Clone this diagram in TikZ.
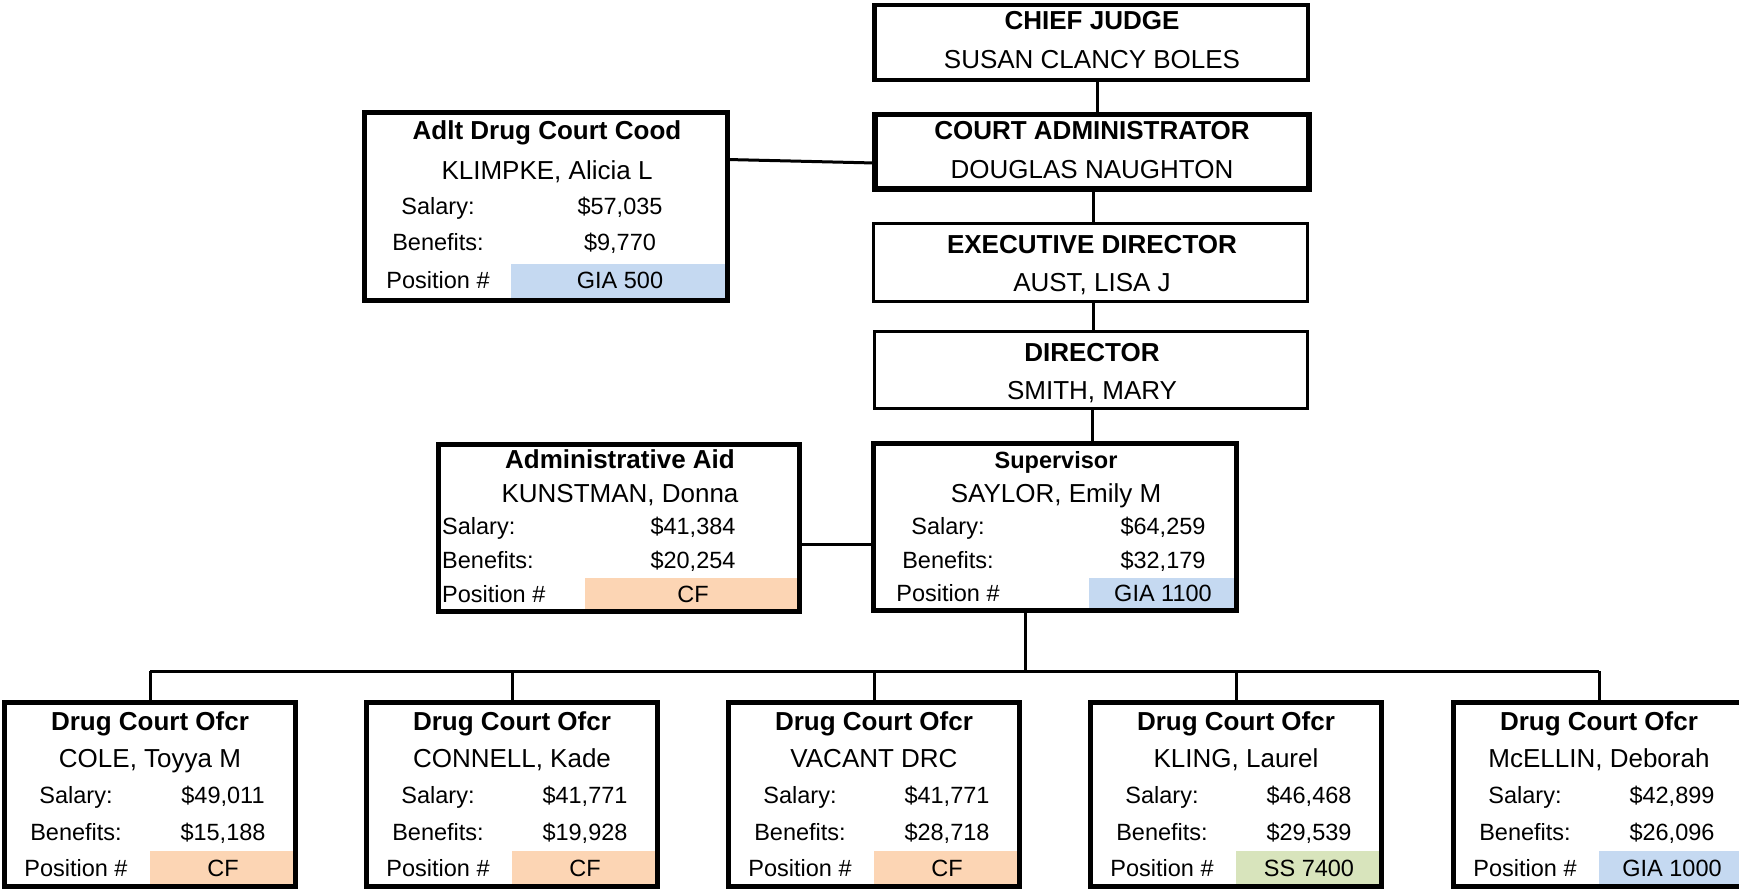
\documentclass[tikz,border=0pt]{standalone}
\usepackage{fontspec}
\setmainfont{Liberation Sans}
\definecolor{peach}{RGB}{252,213,180}
\definecolor{lblue}{RGB}{197,217,241}
\definecolor{lgreen}{RGB}{216,228,188}
\begin{document}
\begin{tikzpicture}[x=1pt,y=-1pt,
  box/.style={draw=black,line width=5pt,inner sep=0pt,outer sep=0pt,rectangle},
  thinbox/.style={box,line width=3pt},
  ttl/.style={anchor=base,inner sep=0pt,font=\fontsize{26}{28}\selectfont\bfseries},
  ttls/.style={anchor=base,inner sep=0pt,font=\fontsize{23.5}{26}\selectfont\bfseries},
  nm/.style={anchor=base,inner sep=0pt,font=\fontsize{26}{28}\selectfont},
  lbl/.style={anchor=base,inner sep=0pt,font=\fontsize{23.5}{26}\selectfont},
  lbll/.style={lbl,anchor=base west},
  conn/.style={line width=3pt},
]
\fill[white] (0,0) rectangle (1739,891);
\useasboundingbox (0,0) rectangle (1739,891);

% ---- top chain ----
\node[box,line width=4.5pt,minimum width=433.5pt,minimum height=74.5pt] (chief) at (1091,42.5) {};
\node[ttl] (chiefT) at (1092,30) {CHIEF JUDGE};
\node[nm] (chiefN) at (1092,68) {SUSAN CLANCY BOLES};

\node[box,line width=5.5pt,minimum width=434pt,minimum height=74.5pt] (ca) at (1091.75,151.5) {};
\node[ttl] (caT) at (1092,139) {COURT ADMINISTRATOR};
\node[nm] (caN) at (1092,178) {DOUGLAS NAUGHTON};

\node[thinbox,minimum width=434pt,minimum height=78pt] (exec) at (1090.5,262.5) {};
\node[ttl] (execT) at (1092,253) {EXECUTIVE DIRECTOR};
\node[nm] (execN) at (1092,291) {AUST, LISA J};

\node[thinbox,minimum width=433pt,minimum height=77pt] (dir) at (1091,370) {};
\node[ttl] (dirT) at (1092,361) {DIRECTOR};
\node[nm] (dirN) at (1092,399) {SMITH, MARY};

% ---- Adlt Drug Court Cood ----
\fill[lblue] (511,264) rectangle (727.5,300.5);
\node[box,minimum width=363pt,minimum height=188pt] (adlt) at (546,206.5) {};
\node[ttl] (adltT) at (547,139) {Adlt Drug Court Cood};
\node[nm] (adltN) at (547,179) {KLIMPKE, Alicia L};
\node[lbl] (adltS) at (438,214) {Salary:};
\node[lbl] (adltSv) at (620,214) {\$57,035};
\node[lbl] (adltB) at (438,250) {Benefits:};
\node[lbl] (adltBv) at (620,250) {\$9,770};
\node[lbl] (adltP) at (438,288) {Position \#};
\node[lbl] (adltPv) at (620,288) {GIA 500};

% ---- Administrative Aid ----
\fill[peach] (585,578) rectangle (799.5,611.5);
\node[box,minimum width=361pt,minimum height=167pt] (aid) at (619,528) {};
\node[ttl] (aidT) at (620,468) {Administrative Aid};
\node[nm] (aidN) at (620,502) {KUNSTMAN, Donna};
\node[lbll] (aidS) at (442,534) {Salary:};
\node[lbl] (aidSv) at (693,534) {\$41,384};
\node[lbll] (aidB) at (442,568) {Benefits:};
\node[lbl] (aidBv) at (693,568) {\$20,254};
\node[lbll] (aidP) at (442,602) {Position \#};
\node[lbl] (aidPv) at (693,602) {CF};

% ---- Supervisor ----
\fill[lblue] (1089,578) rectangle (1236.5,610.5);
\node[box,minimum width=363pt,minimum height=167pt] (sup) at (1055,527) {};
\node[ttls] (supT) at (1056,468) {Supervisor};
\node[nm] (supN) at (1056,502) {SAYLOR, Emily M};
\node[lbl] (supS) at (948,534) {Salary:};
\node[lbl] (supSv) at (1163,534) {\$64,259};
\node[lbl] (supB) at (948,568) {Benefits:};
\node[lbl] (supBv) at (1163,568) {\$32,179};
\node[lbl] (supP) at (948,601) {Position \#};
\node[lbl] (supPv) at (1163,601) {GIA 1100};

% ---- bottom row ----
\foreach \i/\cx/\nm/\sal/\ben/\pos/\col in {
  1/150/{COLE, Toyya M}/{\$49,011}/{\$15,188}/{CF}/peach,
  2/512/{CONNELL, Kade}/{\$41,771}/{\$19,928}/{CF}/peach,
  3/874/{VACANT DRC}/{\$41,771}/{\$28,718}/{CF}/peach,
  4/1236/{KLING, Laurel}/{\$46,468}/{\$29,539}/{SS 7400}/lgreen,
  5/1599/{McELLIN, Deborah}/{\$42,899}/{\$26,096}/{GIA 1000}/lblue}{
  \fill[\col] (\cx,851) rectangle (\cx+145.5,886.5);
  \node[box,minimum width=291pt,minimum height=184pt] (b\i) at (\cx,794.5) {};
  \node[ttl] (b\i T) at (\cx,730) {Drug Court Ofcr};
  \node[nm] (b\i N) at (\cx,767) {\nm};
  \node[lbl] (b\i S) at (\cx-74,803) {Salary:};
  \node[lbl] (b\i Sv) at (\cx+73,803) {\sal};
  \node[lbl] (b\i B) at (\cx-74,840) {Benefits:};
  \node[lbl] (b\i Bv) at (\cx+73,840) {\ben};
  \node[lbl] (b\i P) at (\cx-74,876) {Position \#};
  \node[lbl] (b\i Pv) at (\cx+73,876) {\pos};
}

% ---- connectors ----
\draw[conn] ([xshift=6pt]chief.south) -- ([xshift=6pt]chief.south |- ca.north);
\draw[conn] ([xshift=2pt]ca.south) -- ([xshift=2pt]ca.south |- exec.north);
\draw[conn] ([xshift=2.5pt]exec.south) -- ([xshift=2.5pt]exec.south |- dir.north);
\draw[conn] ([xshift=1pt]dir.south) -- ([xshift=1pt]dir.south |- sup.north);
\draw[conn] ([yshift=47pt]adlt.east) -- ([yshift=-11.5pt]ca.west);
\coordinate (hl) at (0,544);
\draw[conn] (aid.east |- hl) -- (sup.west |- hl);
\coordinate (bus) at (0,671);
\coordinate (supx) at (1025,0);
\draw[conn] (sup.south -| supx) -- (bus -| supx);
\draw[conn] (b1.north |- bus) -- (b5.north |- bus);
\foreach \i in {1,...,5} \draw[conn] (b\i.north |- bus) -- (b\i.north);
\end{tikzpicture}
\end{document}
